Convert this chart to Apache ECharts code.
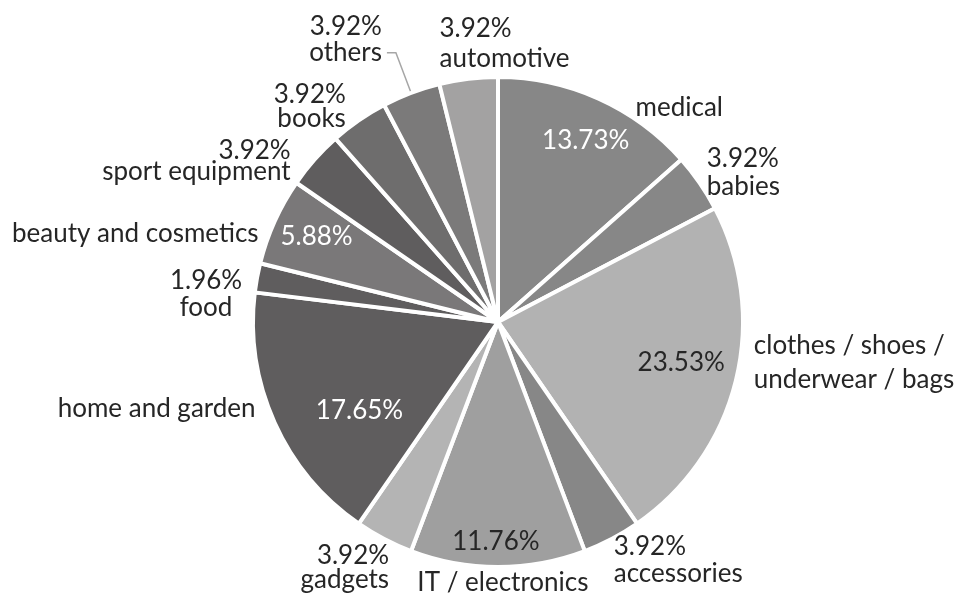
<!DOCTYPE html>
<html>
<head>
<meta charset="utf-8">
<script src="https://cdn.jsdelivr.net/npm/echarts@6/dist/echarts.min.js"></script>
<style>
    html, body { margin: 0; padding: 0; background: #fff; }
    #chart { width: 956px; height: 596px; }
</style>
</head>
<body>
<div id="chart"></div>
<script>
// shop categories, clockwise from 12 o'clock
const categories = [
    'medical', 'babies', 'clothes / shoes /\nunderwear / bags', 'accessories',
    'IT / electronics', 'gadgets', 'home and garden', 'food',
    'beauty and cosmetics', 'sport equipment', 'books', 'others', 'automotive'
];
// share of shops, in percent
const shares = [13.73, 3.92, 23.53, 3.92, 11.76, 3.92, 17.65, 1.96, 5.88, 3.92, 3.92, 3.92, 3.92];
// which slices print the percentage inside the slice
const shareInside = [true, false, true, false, true, false, true, false, true, false, false, false, false];

document.addEventListener('DOMContentLoaded', () => {
    const chart = echarts.init(document.getElementById('chart'));

    const sliceColors = ['#878787', '#878787', '#b2b2b2', '#878787', '#9f9f9f', '#b4b4b4',
        '#5f5d5e', '#5f5d5e', '#7a7879', '#5f5d5e', '#6e6d6d', '#7b7a7a', '#a3a2a2'];
    const insideTextColors = ['#fff', null, '#262626', null, '#262626', null, '#fff', null, '#fff'];

    // nudges for the outer labels so they sit like in the original
    const outerNudge = [
        { dx: 32, dy: 9 },
        { dx: 2, dy: -10, lh: 28 },
        { dx: 13, dy: -18, lh: 34 },
        { dx: -3, dy: 21, lh: 27 },
        { dx: 10, dy: 16, align: 'center' },
        { dx: 10, dy: 29, lh: 24 },
        { dx: -14, dy: -14 },
        { dx: -46, dy: 16, align: 'center', lh: 27 },
        { dx: -11, dy: 12 },
        { dx: -19, dy: 2, lh: 21 },
        { dx: -8, dy: -14, lh: 24 },
        null,
        { dx: -24, dy: -35, align: 'left', lh: 30 }
    ];
    const innerNudge = [[6, 0], null, [-10, -7], null, [-2, 21], null, [43, 7], null, [0, -4]];

    const fmt = v => v.toFixed(2) + '%';
    const R = 245;

    const sliceData = categories.map((name, i) => {
        const n = outerNudge[i];
        const item = {
            name: name,
            value: shares[i],
            itemStyle: { color: sliceColors[i] },
            label: {
                formatter: shareInside[i] ? name : fmt(shares[i]) + '\n' + name
            }
        };
        if (n && n.lh) item.label.lineHeight = n.lh;
        if (name === 'others') {
            // blank third line so the leader line meets the name line
            item.label.formatter += '\n ';
            item.label.lineHeight = 26;
            item.labelLine = {
                show: true,
                length: 43,
                length2: 9,
                lineStyle: { color: '#a6a6a6', width: 1.5 }
            };
        }
        return item;
    });

    const innerData = categories.map((name, i) => ({
        name: name,
        value: shares[i],
        label: {
            show: shareInside[i],
            formatter: fmt(shares[i]),
            color: insideTextColors[i] || '#262626'
        }
    }));

    const textStyle = {
        fontFamily: 'Lato',
        fontSize: 26,
        color: '#262626',
        lineHeight: 30
    };

    const option = {
        animation: false,
        backgroundColor: '#fff',
        series: [
            {
                name: 'slices',
                type: 'pie',
                center: [498, 322],
                radius: [0, R],
                startAngle: 90,
                avoidLabelOverlap: false,
                itemStyle: { borderColor: '#fff', borderWidth: 4 },
                label: Object.assign({ show: true, position: 'outside', distanceToLabelLine: 5 }, textStyle),
                labelLine: { show: false, length: 0, length2: 0 },
                labelLayout: params => {
                    const n = outerNudge[params.dataIndex];
                    if (!n) return {};
                    const out = { dx: n.dx, dy: n.dy };
                    if (n.align) out.align = n.align;
                    return out;
                },
                emphasis: { disabled: true },
                data: sliceData
            },
            {
                // transparent copy, only there to carry the percentages inside the slices
                name: 'shares',
                type: 'pie',
                center: [498, 322],
                radius: [0, R * 1.6],
                startAngle: 90,
                silent: true,
                avoidLabelOverlap: false,
                itemStyle: { color: 'transparent', borderWidth: 0 },
                label: Object.assign({ position: 'inside' }, textStyle),
                labelLine: { show: false },
                labelLayout: params => {
                    const n = innerNudge[params.dataIndex];
                    return n ? { dx: n[0], dy: n[1] } : {};
                },
                emphasis: { disabled: true },
                data: innerData
            }
        ]
    };

    chart.setOption(option);

    window.addEventListener('resize', () => {
        chart.resize();
    });
});
</script>
</body>
</html>
